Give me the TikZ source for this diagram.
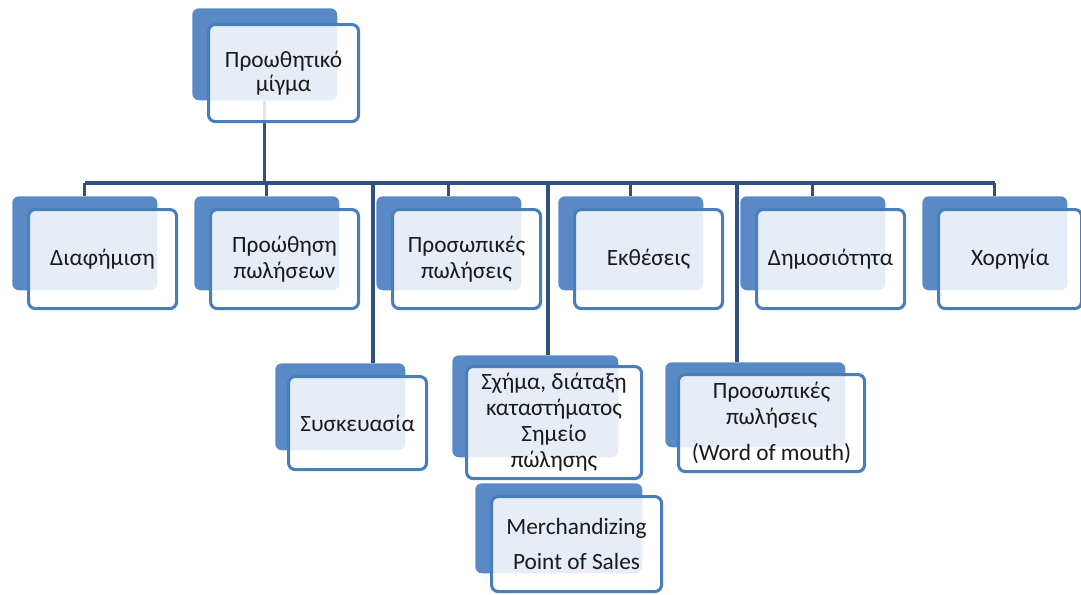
\documentclass[tikz,border=0pt]{standalone}
\usepackage{fontspec}
\setmainfont{Carlito}
\usetikzlibrary{positioning, backgrounds}

\definecolor{cardblue}{HTML}{5A8AC6}
\definecolor{edgeblue}{HTML}{4A7EBB}
\definecolor{linkblue}{HTML}{30507F}
\definecolor{inktext}{HTML}{1A1A1A}

\begin{document}
\begin{tikzpicture}[x=0.75pt, y=-0.75pt,
    back/.style 2 args={fill=cardblue, rounded corners=5pt, anchor=north west, inner sep=0pt, minimum width=#1*0.75pt, minimum height=#2*0.75pt},
    card/.style 2 args={draw=edgeblue, line width=2.3pt, fill=white, fill opacity=0.85, text opacity=1, rounded corners=5pt, anchor=north west, inner sep=0pt, align=center, text=inktext, font=\fontsize{17.5}{19.5}\selectfont, minimum width=#1*0.75pt, minimum height=#2*0.75pt},
    link/.style={draw=linkblue, line width=2.3pt}
]
    \useasboundingbox (0,0) rectangle (1081,594);

    % Root
    \node[back={145}{92}] (rootb) at (192,8) {};
    \node[card={150}{97}, font=\fontsize{17.5}{17.5}\selectfont] (root) at (207,23) {Προωθητικό\\μίγμα};

    % First row
    \node[back={145}{94}] (advb) at (12,196) {};
    \node[card={148}{99}] (adv) at (27,208) {Διαφήμιση};

    \node[back={145}{94}] (promb) at (194,196) {};
    \node[card={148}{99}] (prom) at (209,208) {Προώθηση\\πωλήσεων};

    \node[back={145}{94}] (persb) at (376,196) {};
    \node[card={148}{99}] (pers) at (391,208) {Προσωπικές\\πωλήσεις};

    \node[back={145}{94}] (exhb) at (558,196) {};
    \node[card={148}{99}] (exh) at (573,208) {Εκθέσεις};

    \node[back={145}{94}] (pubb) at (740,196) {};
    \node[card={148}{99}] (pub) at (755,208) {Δημοσιότητα};

    \node[back={145}{94}] (sponb) at (922,196) {};
    \node[card={143}{99}] (spon) at (937,208) {Χορηγία};

    % Hanging boxes
    \node[back={130}{87}] (packb) at (275,363) {};
    \node[card={138}{93}] (pack) at (287,375) {Συσκευασία};

    \node[back={166}{102}] (layoutb) at (452,355) {};
    \node[card={175}{112}] (layout) at (465,365) {Σχήμα, διάταξη\\καταστήματος\\Σημείο\\πώλησης};

    \node[back={167}{90}] (merchb) at (475,483) {};
    \node[card={170}{95}] (merch) at (490,495) {Merchandizing\\[7pt]Point of Sales};

    \node[back={180}{85}] (wordb) at (665,362) {};
    \node[card={186}{97}] (word) at (677,373) {Προσωπικές\\πωλήσεις\\[7pt](Word of mouth)};

    % Connectors
    \begin{scope}[on background layer]
        \coordinate (bar) at (0,183);
        \coordinate (hangpack) at (373,183);
        \coordinate (hanglayout) at (548,183);
        \coordinate (hangword) at (737,183);
        \draw[link] (rootb.south) -- (rootb.south |- bar);
        \draw[link] (advb.north |- bar) -- (sponb.north |- bar);
        \draw[link] (advb.north |- bar) -- (advb.north);
        \draw[link] (promb.north |- bar) -- (promb.north);
        \draw[link] (persb.north |- bar) -- (persb.north);
        \draw[link] (exhb.north |- bar) -- (exhb.north);
        \draw[link] (pubb.north |- bar) -- (pubb.north);
        \draw[link] (sponb.north |- bar) -- (sponb.north);
        \draw[link] (hangpack) -- (hangpack |- packb.north);
        \draw[link] (hanglayout) -- (hanglayout |- layoutb.north);
        \draw[link] (hangword) -- (hangword |- wordb.north);
    \end{scope}
\end{tikzpicture}
\end{document}
